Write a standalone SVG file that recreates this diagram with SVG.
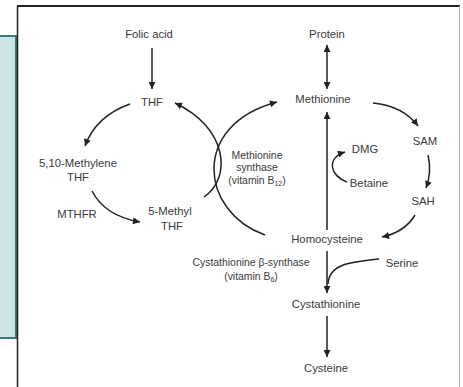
<svg xmlns="http://www.w3.org/2000/svg" width="463" height="387" viewBox="0 0 463 387">
<defs>
<style>
text{font-family:"Liberation Sans",Arial,sans-serif;fill:#3a3a3a;text-anchor:middle}
.n{font-size:11.3px}
.s{font-size:10.4px}
.sub{font-size:7px}
.c{fill:none;stroke:#222;stroke-width:1.5}
</style>
<marker id="ah" viewBox="0 0 10 10" refX="10" refY="5" markerWidth="8" markerHeight="7" markerUnits="userSpaceOnUse" orient="auto-start-reverse">
<path d="M0,0 L10,5 L0,10 z" fill="#222"/>
</marker>
</defs>
<rect x="0" y="0" width="463" height="387" fill="#fff"/>
<rect x="-5" y="36" width="21" height="302" fill="#cce5e5" stroke="#3d7a75" stroke-width="2"/>
<g id="frame">
<line x1="17.5" y1="6" x2="17.5" y2="387" stroke="#222" stroke-width="1.5"/>
<line x1="17" y1="6" x2="460" y2="6" stroke="#222" stroke-width="2"/>
<line x1="459.5" y1="6" x2="459.5" y2="387" stroke="#aaa" stroke-width="1"/>
</g>
<g id="connectors">
<path class="c" d="M152,48 L152,89" marker-end="url(#ah)"/>
<path class="c" d="M327,45 L327,89" marker-start="url(#ah)" marker-end="url(#ah)"/>
<path class="c" d="M130,104 Q96,116 85,146" marker-end="url(#ah)"/>
<path class="c" d="M92,191 Q105,216 140,222" marker-end="url(#ah)"/>
<path class="c" d="M204,197 C232,178 228,128 175,103" marker-end="url(#ah)"/>
<path class="c" d="M265,235 C200,212 190,125 277,102" marker-end="url(#ah)"/>
<path class="c" d="M373,103 Q403,106 418,126" marker-end="url(#ah)"/>
<path class="c" d="M428,155 Q432,172 426,188" marker-end="url(#ah)"/>
<path class="c" d="M415,215 Q405,232 382,237" marker-end="url(#ah)"/>
<path class="c" d="M327,230 L327,112" marker-end="url(#ah)"/>
<path class="c" d="M347,182 C330,176 326,158 345,152" marker-end="url(#ah)"/>
<path class="c" d="M327,251 L327,293" marker-end="url(#ah)"/>
<path class="c" d="M379,259 C350,262 329,264 328,284"/>
<path class="c" d="M327,316 L327,357" marker-end="url(#ah)"/>
</g>
<g id="folic"><text class="n" x="149" y="38">Folic acid</text></g>
<g id="thf"><text class="n" x="152" y="106">THF</text></g>
<g id="methylene"><text class="n" x="78" y="167">5,10-Methylene</text><text class="n" x="78" y="181">THF</text></g>
<g id="mthfr"><text class="n" x="77" y="218">MTHFR</text></g>
<g id="methylthf"><text class="n" x="170" y="215">5-Methyl</text><text class="n" x="172" y="230">THF</text></g>
<g id="synthase"><text class="s" x="257" y="159">Methionine</text><text class="s" x="257" y="171">synthase</text><text class="s" x="257" y="184">(vitamin B<tspan class="sub" dy="2">12</tspan><tspan dy="-2">)</tspan></text></g>
<g id="protein"><text class="n" x="327" y="38">Protein</text></g>
<g id="methionine"><text class="n" x="323" y="103">Methionine</text></g>
<g id="sam"><text class="n" x="425" y="145">SAM</text></g>
<g id="sah"><text class="n" x="423" y="205">SAH</text></g>
<g id="dmg"><text class="n" x="365" y="153">DMG</text></g>
<g id="betaine"><text class="n" x="369" y="187">Betaine</text></g>
<g id="homocysteine"><text class="n" x="327" y="243">Homocysteine</text></g>
<g id="cbs"><text class="s" x="251" y="266">Cystathionine β-synthase</text><text class="s" x="251" y="280">(vitamin B<tspan class="sub" dy="2">6</tspan><tspan dy="-2">)</tspan></text></g>
<g id="serine"><text class="n" x="402" y="267">Serine</text></g>
<g id="cystathionine"><text class="n" x="326" y="308">Cystathionine</text></g>
<g id="cysteine"><text class="n" x="326" y="372">Cysteine</text></g>
</svg>
